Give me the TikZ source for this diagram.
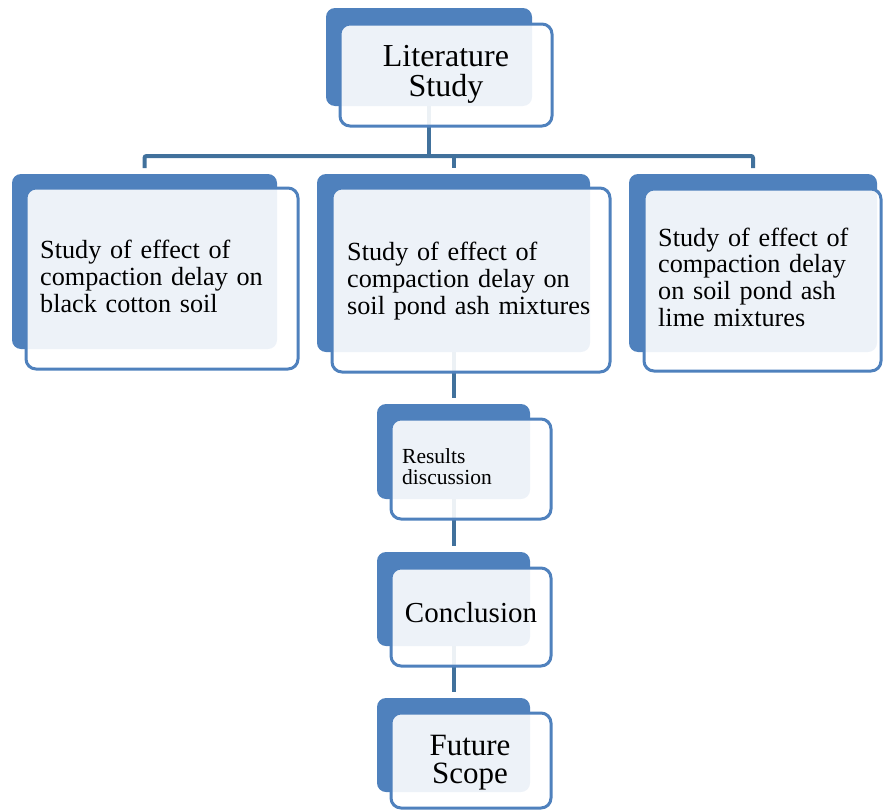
\documentclass[tikz,border=0pt]{standalone}
\usepackage{fontspec}
\setmainfont{Liberation Serif}
\definecolor{accent}{HTML}{4F81BD}
\definecolor{connc}{HTML}{41719C}
\tikzset{
  backbox/.style={draw=none, fill=accent, rounded corners=9pt, inner sep=0pt, outer sep=0pt, anchor=north west},
  frontbox/.style={draw=accent, line width=3pt, fill=white, fill opacity=0.9, draw opacity=1, rounded corners=10pt, inner sep=0pt, outer sep=0pt, anchor=north west},
  conn/.style={draw=connc, line width=4pt},
  bigtxt/.style={inner sep=0pt, anchor=base west, text width=300pt, align=left, font=\fontsize{26.2}{27}\selectfont},
}
\begin{document}
\begin{tikzpicture}[x=1pt,y=-1pt]
\useasboundingbox (0,0) rectangle (884,811);
% back boxes
\path (326,8) node[backbox, minimum width=206pt, minimum height=98pt] (litb) {};
\path (12,174) node[backbox, minimum width=265pt, minimum height=175pt] (b1b) {};
\path (317,174) node[backbox, minimum width=273pt, minimum height=178pt] (b2b) {};
\path (629,174) node[backbox, minimum width=248pt, minimum height=178pt] (b3b) {};
\path (377,404) node[backbox, minimum width=153pt, minimum height=95pt] (resb) {};
\path (377,552) node[backbox, minimum width=153pt, minimum height=94pt] (conb) {};
\path (377,698) node[backbox, minimum width=153pt, minimum height=94pt] (futb) {};
% connectors
\coordinate (hubbar) at ([yshift=18pt]b2b.north);
\draw[conn] (litb.south) -- (litb.south |- hubbar);
\draw[conn, rounded corners=2pt] ([yshift=6pt]b1b.north) -- ([yshift=18pt]b1b.north) -- ([yshift=18pt]b3b.north) -- ([yshift=6pt]b3b.north);
\draw[conn] (hubbar) -- ([yshift=6pt]b2b.north);
\draw[conn] (b2b.south) -- ([yshift=6pt]resb.north);
\draw[conn] (resb.south) -- ([yshift=6pt]conb.north);
\draw[conn] (conb.south) -- ([yshift=6pt]futb.north);
% front boxes
\path (340,24) node[frontbox, minimum width=212pt, minimum height=102pt] (lit) {};
\path (26,188) node[frontbox, minimum width=272pt, minimum height=181pt] (b1) {};
\path (332,188) node[frontbox, minimum width=278pt, minimum height=184pt] (b2) {};
\path (644,189) node[frontbox, minimum width=237pt, minimum height=182pt] (b3) {};
\path (391,419) node[frontbox, minimum width=160pt, minimum height=100pt] (res) {};
\path (391,568) node[frontbox, minimum width=160pt, minimum height=98pt] (con) {};
\path (391,713) node[frontbox, minimum width=160pt, minimum height=95pt] (fut) {};
% texts
\node[inner sep=0pt, anchor=base, text width=220pt, align=center, font=\fontsize{32}{30.5}\selectfont] (littxt) at (446,66) {Literature\\Study};
\node[bigtxt] (b1txt) at (40,258) {Study of effect of\\compaction delay on\\black cotton soil};
\node[bigtxt] (b2txt) at (347,260) {Study of effect of\\compaction delay on\\soil pond ash mixtures};
\node[bigtxt, font=\fontsize{26.2}{26.7}\selectfont] (b3txt) at (658,246) {Study of effect of\\compaction delay\\on soil pond ash\\lime mixtures};
\node[inner sep=0pt, anchor=base west, text width=150pt, align=left, font=\fontsize{21.5}{21}\selectfont] (restxt) at (402,463) {Results\\discussion};
\node[inner sep=0pt, anchor=base, text width=160pt, align=center, font=\fontsize{29}{29}\selectfont] (contxt) at (471,622) {Conclusion};
\node[inner sep=0pt, anchor=base, text width=160pt, align=center, font=\fontsize{31}{28}\selectfont] (futtxt) at (470,755) {Future\\Scope};
\end{tikzpicture}
\end{document}
